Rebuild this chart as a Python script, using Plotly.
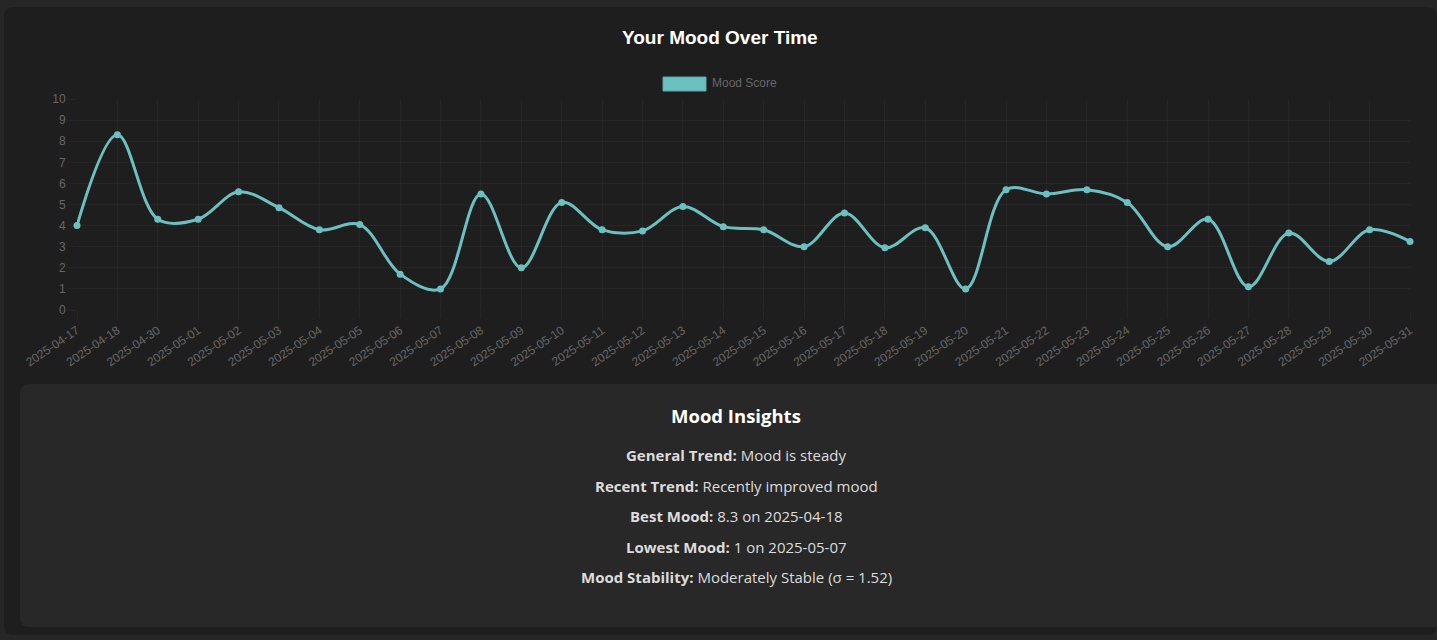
import plotly.graph_objects as go

# mood log
dates = ['2025-04-17', '2025-04-18', '2025-04-30', '2025-05-01', '2025-05-02',
         '2025-05-03', '2025-05-04', '2025-05-05', '2025-05-06', '2025-05-07',
         '2025-05-08', '2025-05-09', '2025-05-10', '2025-05-11', '2025-05-12',
         '2025-05-13', '2025-05-14', '2025-05-15', '2025-05-16', '2025-05-17',
         '2025-05-18', '2025-05-19', '2025-05-20', '2025-05-21', '2025-05-22',
         '2025-05-23', '2025-05-24', '2025-05-25', '2025-05-26', '2025-05-27',
         '2025-05-28', '2025-05-29', '2025-05-30', '2025-05-31']
mood = [4.0, 8.3, 4.3, 4.3, 5.6, 4.85, 3.8, 4.05, 1.7, 1.0,
        5.5, 2.0, 5.1, 3.8, 3.75, 4.9, 3.95, 3.8, 3.0, 4.6,
        2.95, 3.9, 1.0, 5.7, 5.5, 5.7, 5.1, 3.0, 4.3, 1.1,
        3.65, 2.3, 3.8, 3.25]

y_ticks = list(range(0, 11))

insight_labels = ['General Trend:', 'Recent Trend:', 'Best Mood:', 'Lowest Mood:', 'Mood Stability:']
insight_values = ['Mood is steady', 'Recently improved mood', '8.3 on 2025-04-18',
                  '1 on 2025-05-07', 'Moderately Stable (\u03c3 = 1.52)']

W, H = 1437, 640
TEAL = '#6cc0c0'
GRID = 'rgba(255,255,255,0.04)'
TICK = '#666666'


def px(x):
    return x / W


def py(y):
    return 1 - y / H


def rounded_rect(x0, y0, x1, y1, r):
    # path in pixel coords -> paper coords
    pts = (f'M {px(x0 + r)},{py(y0)} L {px(x1 - r)},{py(y0)} '
           f'Q {px(x1)},{py(y0)} {px(x1)},{py(y0 + r)} L {px(x1)},{py(y1 - r)} '
           f'Q {px(x1)},{py(y1)} {px(x1 - r)},{py(y1)} L {px(x0 + r)},{py(y1)} '
           f'Q {px(x0)},{py(y1)} {px(x0)},{py(y1 - r)} L {px(x0)},{py(y0 + r)} '
           f'Q {px(x0)},{py(y0)} {px(x0 + r)},{py(y0)} Z')
    return pts


def label(text, x, y, size, color, family, xanchor='center'):
    return dict(text=text, x=px(x), y=py(y), xref='paper', yref='paper',
                xanchor=xanchor, yanchor='middle', showarrow=False,
                font=dict(family=family, size=size, color=color))


fig = go.Figure()

fig.add_trace(go.Scatter(
    x=dates, y=mood, mode='lines+markers', name='Mood Score',
    line=dict(color=TEAL, width=3, shape='spline', smoothing=1.0),
    marker=dict(color=TEAL, size=7),
    cliponaxis=False, showlegend=False,
))

shapes = [
    dict(type='path', xref='paper', yref='paper', path=rounded_rect(4, 7, 1437, 635, 10),
         fillcolor='#1e1e1e', line=dict(width=0), layer='below'),
    dict(type='path', xref='paper', yref='paper', path=rounded_rect(20, 384, 1452, 627, 10),
         fillcolor='#282828', line=dict(width=0), layer='below'),
    # legend box
    dict(type='rect', xref='paper', yref='paper', x0=px(663), x1=px(706), y0=py(91), y1=py(77),
         fillcolor=TEAL, line=dict(color='#5aa9a9', width=1)),
]

SANS = 'Liberation Sans, Arial'
UI = 'Open Sans, Noto Sans'
annotations = [
    label('<b>Your Mood Over Time</b>', 720, 38, 19, '#ffffff', SANS),
    label('Mood Score', 710, 83, 12, TICK, SANS, xanchor='left'),
    label('<b>Mood Insights</b>', 736, 415, 18.5, '#ffffff', UI),
]
for i, (lab, val) in enumerate(zip(insight_labels, insight_values)):
    annotations.append(label(f'<b>{lab}</b> {val}', 736, 455 + i * 30.5, 15, '#dcdcdc', UI))

fig.update_layout(
    width=W, height=H, autosize=False,
    margin=dict(l=0, r=0, t=0, b=0, pad=0),
    paper_bgcolor='#262626', plot_bgcolor='#1e1e1e',
    font=dict(family=SANS, size=12, color=TICK),
    shapes=shapes, annotations=annotations,
    xaxis=dict(type='category', domain=[px(77), px(1410)], range=[0, len(dates) - 1],
               automargin=False,
               showgrid=True, gridcolor=GRID, zeroline=False, showline=False,
               ticks='outside', ticklen=8, tickcolor=GRID, tickangle=-34,
               tickfont=dict(size=12, color=TICK)),
    yaxis=dict(domain=[py(310), py(99)], range=[0, 10], tickvals=y_ticks,
               automargin=False,
               showgrid=True, gridcolor=GRID, zeroline=False, showline=False,
               ticks='outside', ticklen=8, tickcolor=GRID,
               tickfont=dict(size=12, color=TICK)),
)

fig.write_html('out.html', config={'displayModeBar': False},
               post_script="document.body.style.margin='0';document.body.style.overflow='hidden';"
                           "document.body.style.background='#262626';")
